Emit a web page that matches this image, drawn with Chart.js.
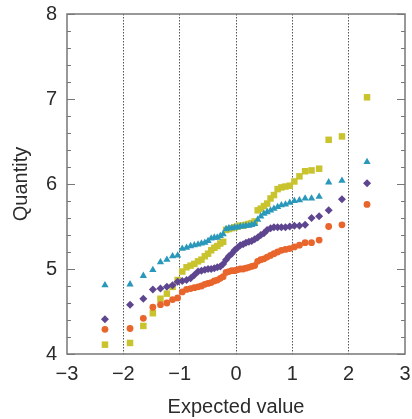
<!DOCTYPE html>
<html>
<head>
<meta charset="utf-8">
<script src="https://cdn.jsdelivr.net/npm/chart.js@4/dist/chart.umd.min.js"></script>
<style>
html, body { margin: 0; padding: 0; background: #fff; }
</style>
</head>
<body>
<canvas id="graficoQQ" width="412" height="419"></canvas>
<script>
// valores esperados (eixo x), iguais para as quatro series
const expectedValues = [
  -2.326, -1.881, -1.645, -1.476, -1.341, -1.227, -1.126, -1.036, -0.954, -0.878,
  -0.806, -0.739, -0.674, -0.613, -0.553, -0.496, -0.440, -0.385, -0.332, -0.279,
  -0.228, -0.176, -0.126, -0.075, -0.025, 0.025, 0.075, 0.126, 0.176, 0.228,
  0.279, 0.332, 0.385, 0.440, 0.496, 0.553, 0.613, 0.674, 0.739, 0.806,
  0.878, 0.954, 1.036, 1.126, 1.227, 1.341, 1.476, 1.645, 1.881, 2.326
];

// quantidades
const quantityTriangles = [
  4.81, 4.82, 4.92, 4.99, 5.08, 5.11, 5.15, 5.16, 5.24, 5.25,
  5.27, 5.28, 5.29, 5.30, 5.31, 5.33, 5.36, 5.37, 5.37, 5.39,
  5.41, 5.47, 5.48, 5.48, 5.49, 5.49, 5.50, 5.50, 5.51, 5.51,
  5.52, 5.53, 5.58, 5.62, 5.65, 5.67, 5.69, 5.71, 5.73, 5.75,
  5.76, 5.78, 5.80, 5.81, 5.83, 5.83, 5.85, 6.02, 6.04, 6.26
];
const quantityCircles = [
  4.29, 4.30, 4.42, 4.55, 4.58, 4.60, 4.64, 4.66, 4.73, 4.76,
  4.77, 4.78, 4.79, 4.80, 4.82, 4.83, 4.84, 4.86, 4.87, 4.89,
  4.91, 4.96, 4.97, 4.98, 4.98, 4.99, 5.00, 5.00, 5.01, 5.02,
  5.03, 5.04, 5.09, 5.11, 5.12, 5.14, 5.16, 5.18, 5.20, 5.22,
  5.23, 5.24, 5.26, 5.28, 5.31, 5.31, 5.34, 5.50, 5.52, 5.76
];
const quantityDiamonds = [
  4.41, 4.58, 4.65, 4.76, 4.77, 4.79, 4.81, 4.85, 4.86, 4.87,
  4.89, 4.93, 4.97, 4.98, 4.99, 5.00, 5.00, 5.01, 5.02, 5.03,
  5.06, 5.11, 5.15, 5.18, 5.22, 5.25, 5.28, 5.29, 5.31, 5.32,
  5.33, 5.35, 5.37, 5.40, 5.42, 5.46, 5.48, 5.49, 5.49, 5.49,
  5.49, 5.50, 5.51, 5.51, 5.52, 5.60, 5.62, 5.69, 5.82, 6.01
];
const quantitySquares = [
  4.11, 4.13, 4.33, 4.48, 4.65, 4.71, 4.79, 4.87, 4.97, 5.02,
  5.04, 5.06, 5.09, 5.11, 5.15, 5.18, 5.22, 5.25, 5.27, 5.30,
  5.32, 5.46, 5.47, 5.48, 5.49, 5.50, 5.51, 5.51, 5.52, 5.53,
  5.54, 5.56, 5.69, 5.71, 5.74, 5.77, 5.83, 5.87, 5.94, 5.96,
  5.97, 5.98, 6.03, 6.09, 6.15, 6.16, 6.18, 6.52, 6.56, 7.02
];

const xTicks = [-3, -2, -1, 0, 1, 2, 3];
const yTicks = [4, 5, 6, 7, 8];

const pontos = (ys) => ys.map((y, i) => ({ x: expectedValues[i], y: y }));
const menos = (v) => (v < 0 ? '\u2212' + Math.abs(v) : String(v));
const fonte = 'Liberation Sans, Arial, Helvetica, sans-serif';

// caixa em volta da area e marcas internas do eixo y
const caixaPlugin = {
  id: 'caixa',
  afterDraw(chart) {
    const { ctx, chartArea: a, scales } = chart;
    const y = scales.y;
    ctx.save();
    ctx.strokeStyle = '#777';
    ctx.lineWidth = 1.5;
    ctx.strokeRect(a.left, a.top, a.right - a.left, a.bottom - a.top);
    ctx.lineWidth = 1.2;
    for (let k = 0; k <= 20; k++) {
      const v = y.min + k * 0.2;
      const py = Math.round(y.getPixelForValue(v)) + 0.5;
      const len = k % 5 === 0 ? 8 : 4;
      ctx.beginPath();
      ctx.moveTo(a.left, py); ctx.lineTo(a.left + len, py);
      ctx.moveTo(a.right, py); ctx.lineTo(a.right - len, py);
      ctx.stroke();
    }
    ctx.restore();
  }
};

new Chart(document.getElementById('graficoQQ'), {
  type: 'scatter',
  data: {
    datasets: [
      { data: pontos(quantityTriangles), pointStyle: 'triangle', radius: 4.2, backgroundColor: '#2a98ba', borderWidth: 0 },
      { data: pontos(quantityCircles), pointStyle: 'circle', radius: 3.4, backgroundColor: '#e8652c', borderWidth: 0 },
      { data: pontos(quantityDiamonds), pointStyle: 'rectRot', radius: 4, backgroundColor: '#5e4590', borderWidth: 0 },
      { data: pontos(quantitySquares), pointStyle: 'rect', radius: 4.6, backgroundColor: '#c9c32e', borderWidth: 0 }
    ]
  },
  options: {
    responsive: false,
    animation: false,
    layout: { padding: { top: 14, right: 7, left: 0, bottom: 0 } },
    plugins: { legend: { display: false }, tooltip: { enabled: false } },
    scales: {
      x: {
        type: 'linear',
        min: -3, max: 3,
        afterBuildTicks: (s) => { s.ticks = xTicks.map(v => ({ value: v })); },
        afterFit: (s) => { s.height = 65; s.paddingLeft = 0; s.paddingRight = 0; },
        ticks: { callback: menos, color: '#2b2b2b', padding: 8, font: { family: fonte, size: 20 } },
        grid: {
          drawTicks: false,
          lineWidth: 1,
          color: (c) => (c.tick && Math.abs(c.tick.value) === 3 ? 'rgba(0,0,0,0)' : '#555')
        },
        border: { display: false, dash: [1.5, 1.5] },
        title: { display: true, text: 'Expected value', color: '#2b2b2b', padding: { top: 0, bottom: 0 }, font: { family: fonte, size: 20 } }
      },
      y: {
        type: 'linear',
        min: 4, max: 8,
        afterBuildTicks: (s) => { s.ticks = yTicks.map(v => ({ value: v })); },
        afterFit: (s) => { s.width = 67; s.paddingTop = 0; s.paddingBottom = 0; },
        ticks: { callback: menos, color: '#2b2b2b', padding: 10, font: { family: fonte, size: 20 } },
        grid: { display: false, drawTicks: false },
        border: { display: false },
        title: { display: true, text: 'Quantity', color: '#2b2b2b', padding: { top: 9, bottom: 0 }, font: { family: fonte, size: 20 } }
      }
    }
  },
  plugins: [caixaPlugin]
});
</script>
</body>
</html>
